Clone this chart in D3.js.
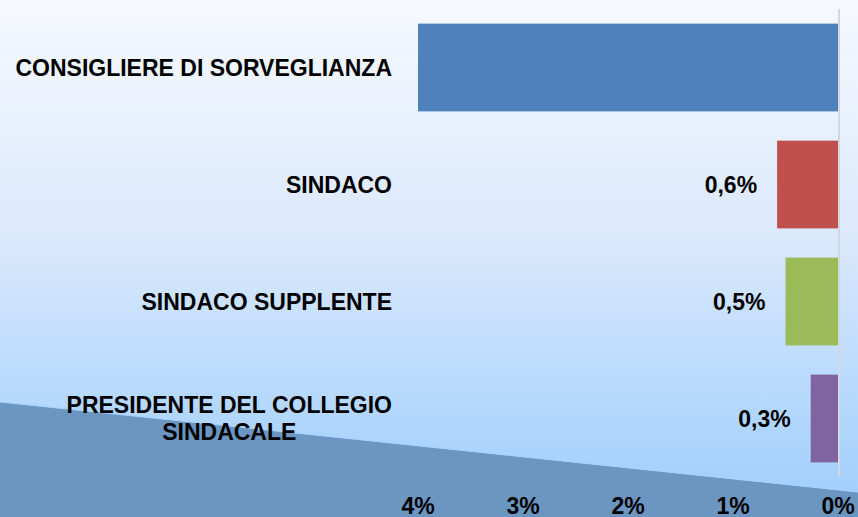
<!DOCTYPE html>
<html>
<head>
<meta charset="utf-8">
<script src="https://cdn.jsdelivr.net/npm/d3@7"></script>
<style>
  body { margin: 0; overflow: hidden; }
  text { font-family: "Liberation Sans", Arial, sans-serif; font-weight: bold; fill: #000; }
</style>
</head>
<body>
<div class="chart"></div>
<script>
// data
var categories = [
  ["CONSIGLIERE DI SORVEGLIANZA"],
  ["SINDACO"],
  ["SINDACO SUPPLENTE"],
  ["PRESIDENTE DEL COLLEGIO", "SINDACALE"]
];
var values = [0.040, 0.0058, 0.005, 0.0026];
var showValue = [false, true, true, true];
var barColors = ["#4f81bd", "#c0504d", "#9bbb59", "#8064a2"];
var tickValues = [0.04, 0.03, 0.02, 0.01, 0];

var svgWidth = 858;
var svgHeight = 517;
var fontSize = 23;

var svg = d3.select(".chart")
  .append("svg")
  .attr("width", svgWidth)
  .attr("height", svgHeight);

// background gradient
var defs = svg.append("defs");
var grad = defs.append("linearGradient")
  .attr("id", "bg")
  .attr("x1", 0).attr("y1", 0).attr("x2", 0).attr("y2", 1);
grad.append("stop").attr("offset", "0%").attr("stop-color", "#f6f9fe");
grad.append("stop").attr("offset", "45%").attr("stop-color", "#dbe9fc");
grad.append("stop").attr("offset", "100%").attr("stop-color", "#9ccdfd");

svg.append("rect")
  .attr("width", svgWidth)
  .attr("height", svgHeight)
  .attr("fill", "url(#bg)");

// darker wedge at the bottom
svg.append("path")
  .attr("d", "M0,402 L858,492 L858,517 L0,517 Z")
  .attr("fill", "#6b96c2");
svg.append("path")
  .attr("d", "M0,402 L858,492")
  .attr("stroke", "#a8d2ff")
  .attr("stroke-width", 1)
  .attr("fill", "none");

// scales
var x = d3.scaleLinear()
  .domain([0, 0.04])
  .range([838, 418]);

var y = d3.scaleBand()
  .domain(d3.range(categories.length))
  .range([9, 477])
  .paddingInner(0.25)
  .paddingOuter(0.125);

var it = d3.formatLocale({decimal: ",", thousands: ".", grouping: [3], currency: ["", "€"]});
var pct = it.format(".1%");
var tickFmt = it.format(".0%");

var rows = values.map(function(v, i) {
  return {i: i, v: v, show: showValue[i], color: barColors[i]};
});

// bars
svg.selectAll(".bar")
  .data(rows)
  .enter()
  .append("rect")
  .attr("class", "bar")
  .attr("x", d => x(d.v))
  .attr("width", d => x(0) - x(d.v))
  .attr("y", d => y(d.i))
  .attr("height", y.bandwidth())
  .attr("fill", d => d.color);

// value axis line
svg.append("line")
  .attr("x1", x(0) + 1).attr("x2", x(0) + 1)
  .attr("y1", 9).attr("y2", 477)
  .attr("stroke", "#d4d8de")
  .attr("stroke-width", 2);

// value labels
svg.selectAll(".val")
  .data(rows.filter(d => d.show))
  .enter()
  .append("text")
  .attr("class", "val")
  .attr("x", d => x(d.v) - 20)
  .attr("y", d => y(d.i) + y.bandwidth() / 2)
  .attr("dy", "0.35em")
  .attr("text-anchor", "end")
  .attr("font-size", fontSize)
  .text(d => pct(d.v));

// category labels
var labelRight = 392;
var lineH = 27;
categories.forEach(function(lines, i) {
  var g = svg.append("g");
  var cy = y(i) + y.bandwidth() / 2 - (lines.length - 1) * lineH / 2;
  var texts = lines.map(function(s, j) {
    return g.append("text")
      .attr("y", cy + j * lineH)
      .attr("dy", "0.35em")
      .attr("font-size", fontSize)
      .text(s);
  });
  var maxW = d3.max(texts, t => t.node().getComputedTextLength());
  var center = labelRight - maxW / 2;
  texts.forEach(function(t) {
    t.attr("x", center).attr("text-anchor", "middle");
  });
});

// tick labels (cut by the bottom edge, as in the original)
svg.selectAll(".tick-label")
  .data(tickValues)
  .enter()
  .append("text")
  .attr("class", "tick-label")
  .attr("x", d => x(d))
  .attr("y", 514)
  .attr("text-anchor", "middle")
  .attr("font-size", fontSize)
  .text(d => tickFmt(d));
</script>
</body>
</html>
